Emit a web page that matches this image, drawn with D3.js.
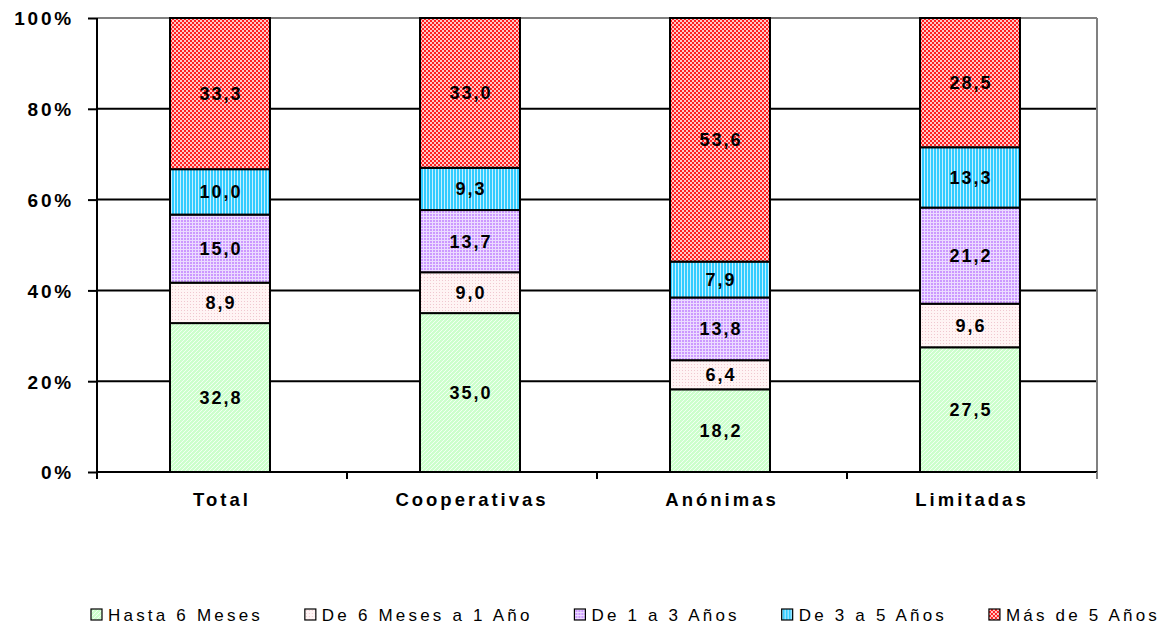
<!DOCTYPE html>
<html><head><meta charset="utf-8">
<script src="https://cdn.jsdelivr.net/npm/d3@7"></script>
<style>
body{margin:0;background:#fff;}
text{font-family:"Liberation Sans",Arial,sans-serif;}
</style></head>
<body><svg id="c" width="1176" height="633"></svg>
<script>
const categories = ["Total","Cooperativas","Anónimas","Limitadas"];
const seriesNames = ["Hasta 6 Meses","De 6 Meses a 1 Año","De 1 a 3 Años","De 3 a 5 Años","Más de 5 Años"];
const hasta6 = [32.8,35.0,18.2,27.5];
const de6a1 = [8.9,9.0,6.4,9.6];
const de1a3 = [15.0,13.7,13.8,21.2];
const de3a5 = [10.0,9.3,7.9,13.3];
const mas5 = [33.3,33.0,53.6,28.5];
const yTicks = [0,0.2,0.4,0.6,0.8,1.0];
const labels = ["32,8","35,0","18,2","27,5","8,9","9,0","6,4","9,6","15,0","13,7","13,8","21,2","10,0","9,3","7,9","13,3","33,3","33,0","53,6","28,5"];

const svg = d3.select("#c");
const defs = svg.append("defs");
function pat(id,w,h,bg,draw){
  const p=defs.append("pattern").attr("id",id).attr("patternUnits","userSpaceOnUse").attr("width",w).attr("height",h);
  p.append("rect").attr("width",w).attr("height",h).attr("fill",bg);
  draw(p);
}
pat("p0",4,4,"#ccffcc",p=>{p.append("path").attr("d","M0,4L4,0M-1,1L1,-1M3,5L5,3").attr("stroke","#f2fff2").attr("stroke-width",1);});
pat("p1",3,3,"#fff4f4",p=>{p.append("rect").attr("x",1).attr("y",1).attr("width",1).attr("height",1).attr("fill","#f0c8d0");});
pat("p2",3,3,"#cc99ff",p=>{p.append("rect").attr("x",0).attr("y",0).attr("width",3).attr("height",1).attr("fill","#ecdcff");p.append("rect").attr("x",0).attr("y",0).attr("width",1).attr("height",3).attr("fill","#ecdcff");});
pat("p3",3,3,"#33ccff",p=>{p.append("rect").attr("x",0).attr("y",0).attr("width",1).attr("height",3).attr("fill","#c8f0ff");});
pat("p4",4,4,"#ff2020",p=>{p.append("rect").attr("x",0).attr("y",0).attr("width",2).attr("height",2).attr("fill","#ffc8c8");p.append("rect").attr("x",2).attr("y",2).attr("width",2).attr("height",2).attr("fill","#ffc8c8");});

const m={l:97,r:1097,t:18,b:472};
const x=d3.scaleBand().domain(categories).range([m.l,m.r]).paddingInner(0).paddingOuter(0);
const y=d3.scaleLinear().domain([0,1]).range([m.b,m.t]);
const cxOf=c=>x(c)+x.bandwidth()/2-2;

// gridlines
svg.append("g").selectAll("line").data(yTicks.slice(1)).join("line")
 .attr("x1",m.l).attr("x2",m.r).attr("y1",d=>y(d)).attr("y2",d=>y(d))
 .attr("stroke",(d)=>d===1?"#808080":"#000").attr("stroke-width",2);
svg.append("line").attr("x1",m.r).attr("x2",m.r).attr("y1",m.t).attr("y2",m.b).attr("stroke","#808080").attr("stroke-width",2);

const seriesVals=[hasta6,de6a1,de1a3,de3a5,mas5];
const data=categories.map((c,i)=>{const o={cat:c};seriesNames.forEach((s,j)=>o[s]=seriesVals[j][i]);return o;});
const stack=d3.stack().keys(seriesNames).offset(d3.stackOffsetExpand);
const st=stack(data);
const bw=100;
st.forEach((layer,j)=>{
  const g=svg.append("g");
  g.selectAll("rect").data(layer).join("rect")
   .attr("x",d=>cxOf(d.data.cat)-bw/2)
   .attr("width",bw)
   .attr("y",d=>y(d[1]))
   .attr("height",d=>y(d[0])-y(d[1]))
   .attr("fill","url(#p"+j+")").attr("stroke","#000").attr("stroke-width",2);
  g.selectAll("text").data(layer).join("text")
   .attr("x",d=>cxOf(d.data.cat)+1)
   .attr("y",d=>(y(d[0])+y(d[1]))/2+6.5)
   .attr("text-anchor","middle").attr("font-weight","bold").attr("font-size",18).attr("letter-spacing",2)
   .attr("fill","#000")
   .text((d,i)=>labels[j*4+i]);
});

// axes
const ya=svg.append("g").attr("transform",`translate(${m.l},0)`)
 .call(d3.axisLeft(y).tickValues(yTicks).tickSize(9).tickFormat(d=>Math.round(d*100)+"%"));
ya.select(".domain").attr("stroke","#000").attr("stroke-width",2).attr("d",`M0,${m.t}V${m.b+7}`);
ya.selectAll(".tick line").attr("stroke","#000").attr("stroke-width",2);
ya.selectAll(".tick text").attr("font-size",19).attr("font-weight","bold").attr("letter-spacing",2.8).attr("x",-23).attr("dy","0.36em").attr("fill","#000").attr("font-family","Liberation Sans, Arial, sans-serif");

const xa=svg.append("g").attr("transform",`translate(0,${m.b})`);
xa.append("line").attr("x1",m.l).attr("x2",m.r).attr("stroke","#000").attr("stroke-width",2);
const bounds=categories.map(c=>x(c)).concat([m.r]);
xa.selectAll("line.t").data(bounds).join("line").attr("class","t")
 .attr("x1",d=>d).attr("x2",d=>d).attr("y1",0).attr("y2",7).attr("stroke",(d,i)=>i===bounds.length-1?"#808080":"#000").attr("stroke-width",2);
xa.selectAll("text").data(categories).join("text")
 .attr("x",d=>cxOf(d)+2).attr("y",34)
 .attr("text-anchor","middle").attr("font-size",18.5).attr("font-weight","bold").attr("letter-spacing",3)
 .text(d=>d);

// legend
const lg=svg.append("g");
const items=lg.selectAll("g").data(seriesNames).join("g");
items.append("rect").attr("x",0).attr("y",-12).attr("width",11).attr("height",11)
 .attr("fill",(d,i)=>"url(#p"+i+")").attr("stroke","#000").attr("stroke-width",1.2);
items.append("text").attr("x",17).attr("y",0).attr("font-size",17).attr("letter-spacing",3.2).text(d=>d);
let widths=[];
items.each(function(){widths.push(this.getBBox().width);});
const total=d3.sum(widths);const L=91,R=1160;
const gap=(R-L-total)/(seriesNames.length-1);
let cx=L;
items.attr("transform",(d,i)=>{const t=`translate(${cx},621)`;cx+=widths[i]+gap;return t;});
</script></body></html>
